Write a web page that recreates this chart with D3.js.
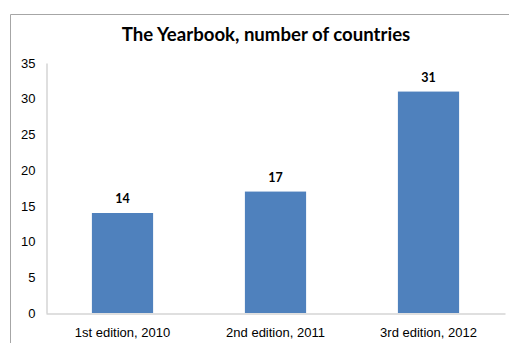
<!DOCTYPE html>
<html>
<head>
<meta charset="utf-8">
<script src="https://cdn.jsdelivr.net/npm/d3@7"></script>
<style>
  body { margin: 0; background: #fff; }
  svg { display: block; font-family: Lato, "Open Sans", sans-serif; }
</style>
</head>
<body>
<svg id="chart" width="509" height="343"></svg>
<script>
let categories = ["1st edition, 2010", "2nd edition, 2011", "3rd edition, 2012"]
let values = [14, 17, 31]
let yTicks = [0, 5, 10, 15, 20, 25, 30, 35]
let title = "The Yearbook, number of countries"

let svg = d3.select("#chart")

let margin = {left: 46, right: 4, top: 63, bottom: 30}
let width = 509, height = 343

// frame around the chart area
svg.append("path")
    .attr("d", `M10.5,${height} V14.5 H${width}`)
    .attr("fill", "none")
    .attr("stroke", "#a6a6a6")

svg.append("text")
    .attr("x", 266)
    .attr("y", 41)
    .attr("text-anchor", "middle")
    .attr("font-size", 18.6)
    .attr("font-weight", "bold")
    .text(title)

let x = d3.scaleBand(categories, [margin.left, width - margin.right])
    .paddingInner(0.6).paddingOuter(0.3)
let y = d3.scaleLinear([0, 35], [height - margin.bottom, margin.top])

let yAxis = svg.append("g")
    .attr("transform", `translate(${margin.left + 0.5},0)`)
    .call(d3.axisLeft(y).tickValues(yTicks).tickSize(0).tickPadding(11))
yAxis.select(".domain").attr("stroke", "#bfbfbf")
yAxis.selectAll("text").attr("font-size", 13).attr("fill", "#000")

let xAxis = svg.append("g")
    .attr("transform", `translate(0,${height - margin.bottom + 0.5})`)
    .call(d3.axisBottom(x).tickSize(0).tickPadding(14))
xAxis.select(".domain").attr("stroke", "#bfbfbf")
xAxis.selectAll("text").attr("font-size", 13).attr("fill", "#000")

svg.selectAll("rect.bar")
    .data(values)
    .enter()
    .append("rect")
    .attr("class", "bar")
    .attr("x", (d, i) => x(categories[i]))
    .attr("y", d => y(d))
    .attr("width", x.bandwidth())
    .attr("height", d => y(0) - y(d))
    .attr("fill", "#4f81bd")

svg.selectAll("text.val")
    .data(values)
    .enter()
    .append("text")
    .attr("class", "val")
    .attr("x", (d, i) => x(categories[i]) + x.bandwidth() / 2)
    .attr("y", d => y(d) - 10)
    .attr("text-anchor", "middle")
    .attr("font-size", 12.5)
    .attr("font-weight", "bold")
    .text(d => d)
</script>
</body>
</html>
